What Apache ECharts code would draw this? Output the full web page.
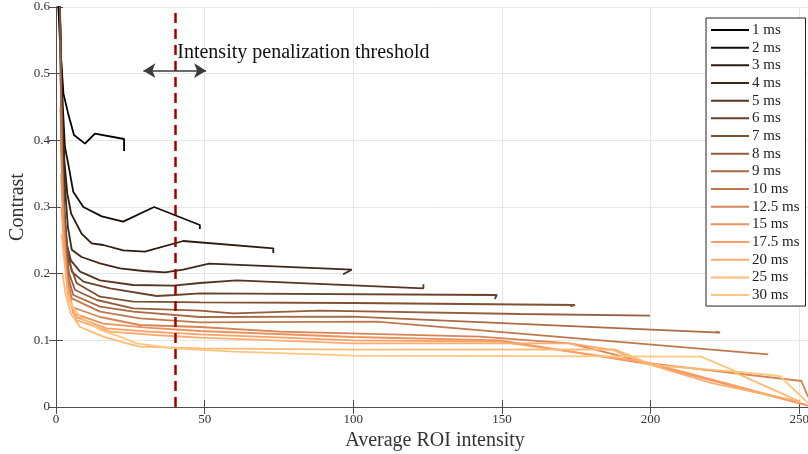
<!DOCTYPE html>
<html>
  <head>
    <meta charset="utf-8" />
  </head>
  <body style="margin:0;">
  <div id="main" style="width:808px;height:454px;"></div>

  <script type="text/javascript" src="https://cdn.jsdelivr.net/npm/echarts@6/dist/echarts.min.js"></script>
  <script type="text/javascript">
      // exposure times (legend)
      var exposures = ['1 ms', '2 ms', '3 ms', '4 ms', '5 ms', '6 ms', '7 ms', '8 ms', '9 ms', '10 ms',
                       '12.5 ms', '15 ms', '17.5 ms', '20 ms', '25 ms', '30 ms'];

      // [average ROI intensity, contrast] for each exposure
      var ms1 = [[0.5,0.75],[0.8,0.6],[1.35,0.546],[2.5,0.47],[4.1,0.44],[6.05,0.408],[9.75,0.395],[13.1,0.41],[22.9,0.402],[22.9,0.384]];
      var ms2 = [[0.7,0.75],[1.5,0.55],[2.3,0.45],[3.0,0.39],[4.1,0.365],[5.8,0.323],[9.2,0.300],[15.4,0.286],[22.6,0.278],[33,0.300],[48.4,0.273],[48.4,0.267]];
      var ms3 = [[0.9,0.7],[1.8,0.48],[2.8,0.37],[3.8,0.32],[5.1,0.29],[8.6,0.26],[12,0.2455],[15.9,0.243],[22.6,0.235],[29.9,0.233],[42.8,0.249],[73.1,0.238],[73.1,0.231]];
      var ms4 = [[1.0,0.68],[2.0,0.45],[3.0,0.33],[4.0,0.27],[5.3,0.236],[8.6,0.225],[14.8,0.2155],[21.5,0.208],[29.4,0.204],[36.7,0.202],[42.8,0.206],[51.5,0.215],[99.5,0.206],[96.6,0.199]];
      var ms5 = [[1.1,0.65],[2.0,0.42],[2.8,0.3],[3.6,0.245],[5,0.22],[8.1,0.203],[14.8,0.19],[26,0.183],[39.5,0.182],[48.4,0.186],[60.8,0.19],[123.6,0.178],[123.6,0.184]];
      var ms6 = [[1.2,0.62],[2.0,0.38],[2.8,0.29],[3.8,0.24],[5.3,0.203],[9.2,0.188],[18.2,0.178],[33.9,0.1665],[40,0.168],[48.4,0.1705],[148.3,0.168],[147.6,0.162]];
      var ms7 = [[1.3,0.6],[2.1,0.36],[3.0,0.27],[4.2,0.22],[7,0.1855],[14.8,0.1655],[26,0.158],[48.4,0.157],[100,0.156],[174.6,0.153],[173,0.151]];
      var ms8 = [[1.4,0.55],[2.2,0.34],[3.1,0.25],[4.4,0.2],[6.4,0.1755],[13.7,0.1605],[26,0.148],[48.4,0.1445],[59.6,0.1405],[88.8,0.1445],[156,0.1395],[199.8,0.137]];
      var ms9 = [[1.5,0.5],[2.3,0.32],[3.2,0.235],[4.4,0.19],[5.8,0.168],[14.8,0.1505],[26,0.143],[48.4,0.135],[100,0.1355],[223.4,0.1115],[222,0.113]];
      var ms10 = [[1.5,0.45],[2.4,0.3],[3.3,0.22],[4.4,0.18],[5.3,0.163],[14.8,0.143],[28.2,0.133],[48.4,0.127],[107.9,0.128],[239.6,0.079]];
      var ms12_5 = [[1.6,0.4],[2.5,0.28],[3.5,0.2],[5.3,0.15],[14.8,0.135],[28.2,0.123],[48.4,0.12],[75.3,0.113],[142.6,0.1055],[172.9,0.0955],[199.8,0.0655],[250.8,0.039],[253,0.015]];
      var ms15 = [[1.7,0.35],[2.6,0.26],[3.6,0.19],[5.8,0.1405],[15.9,0.125],[30.5,0.119],[48.4,0.114],[100,0.105],[149.3,0.1],[200,0.064],[253,0.002]];
      var ms17_5 = [[1.8,0.3],[2.7,0.24],[3.8,0.18],[6.4,0.1355],[17,0.118],[31,0.113],[48.4,0.109],[100,0.1],[149.3,0.098],[200,0.066],[252,0.004]];
      var ms20 = [[1.9,0.26],[2.8,0.22],[4,0.17],[7,0.13],[18.2,0.113],[33,0.108],[48.4,0.104],[100,0.0955],[172.9,0.0955],[187.4,0.0855],[196.4,0.068],[221,0.0355],[250.3,0.008]];
      var ms25 = [[2.2,0.2],[3.2,0.17],[5,0.14],[8.1,0.12],[15.9,0.1055],[23.8,0.0955],[28.2,0.0905],[48.4,0.088],[100,0.086],[188,0.0865],[200.8,0.063],[227.7,0.053],[250.3,0.008]];
      var ms30 = [[3.0,0.176],[4.1,0.16],[8.1,0.1355],[14.8,0.1155],[21.5,0.1055],[27.1,0.0955],[39.5,0.088],[60,0.083],[100,0.077],[217,0.0755],[228.9,0.053],[243.5,0.0465],[253,0.006]];

      var curves = [ms1, ms2, ms3, ms4, ms5, ms6, ms7, ms8, ms9, ms10, ms12_5, ms15, ms17_5, ms20, ms25, ms30];

      // copper colormap, 16 steps
      var colors = ['#000000','#150d08','#2b1b11','#402819','#553522','#6a422a','#805033','#955d3b',
                    '#aa6a44','#bf784c','#d58555','#ea925d','#ff9f65','#ffad6e','#ffba76','#ffc77f'];

      var threshold = 40;
      var arrowFrom = [29.4, 0.5045];
      var arrowTo = [50.5, 0.5045];
      var noteAt = [40.8, 0.531];
      var noteText = 'Intensity penalization threshold';

      var xTicks = {min: 0, max: 255, interval: 50};
      var yTicks = {min: 0, max: 0.6, interval: 0.1};

      var font = 'Liberation Serif';
      var axisColor = '#4d4d4d';

      var myChart = echarts.init(document.getElementById('main'));

      var series = curves.map(function (d, i) {
        return {
          name: exposures[i],
          type: 'line',
          data: d,
          showSymbol: false,
          clip: true,
          color: colors[i],
          lineStyle: {width: 1.8, color: colors[i]},
          emphasis: {disabled: true}
        };
      });

      // threshold + annotation
      series.push({
        name: 'annot',
        type: 'line',
        data: [],
        markLine: {
          silent: true,
          animation: false,
          label: {show: false},
          data: [
            [{coord: [threshold, 0], symbol: 'none', lineStyle: {color: '#a30000', width: 2.5, type: [10, 6]}},
             {coord: [threshold, 0.6], symbol: 'none'}],
            [{coord: arrowFrom, symbol: 'arrow', symbolSize: [11, 12], lineStyle: {color: '#3a3a3a', width: 1.5, type: 'solid'}},
             {coord: arrowTo, symbol: 'arrow', symbolSize: [11, 12]}]
          ]
        },
        markPoint: {
          silent: true,
          animation: false,
          symbolSize: 0,
          data: [{coord: noteAt}],
          label: {
            show: true, position: 'right', distance: 0,
            formatter: noteText,
            fontFamily: font, fontSize: 20, color: '#111'
          }
        }
      });

      var option = {
        animation: false,
        grid: {left: 56, width: 758, top: 7, height: 400, outerBoundsMode: 'none'},
        legend: {
          data: exposures,
          orient: 'vertical',
          left: 706,
          top: 18,
          padding: [4, 6, 3, 5],
          itemWidth: 38,
          itemHeight: 2,
          itemGap: 1.67,
          icon: 'rect',
          backgroundColor: '#fff',
          borderColor: '#222',
          borderWidth: 1,
          borderRadius: 0,
          textStyle: {fontFamily: font, fontSize: 15, lineHeight: 16, color: '#222', padding: [0, 0, 0, -2]}
        },
        xAxis: [{
          type: 'value', min: xTicks.min, max: xTicks.max, interval: xTicks.interval,
          name: 'Average ROI intensity', nameLocation: 'middle', nameGap: 21,
          nameTextStyle: {fontFamily: font, fontSize: 20, color: '#333'},
          axisLine: {show: true, lineStyle: {color: axisColor, width: 1}},
          axisTick: {show: true, inside: true, length: 7, lineStyle: {color: axisColor}},
          axisLabel: {fontFamily: font, fontSize: 13, color: '#333', margin: 6, showMaxLabel: false},
          splitLine: {show: true, lineStyle: {color: '#e6e6e6'}}
        }, {
          type: 'value', position: 'top', min: xTicks.min, max: xTicks.max, interval: xTicks.interval,
          axisLine: {show: true, lineStyle: {color: axisColor}},
          axisTick: {show: true, inside: true, length: 7, lineStyle: {color: axisColor}},
          axisLabel: {show: false}, splitLine: {show: false}
        }],
        yAxis: [{
          type: 'value', min: yTicks.min, max: yTicks.max, interval: yTicks.interval,
          name: 'Contrast', nameLocation: 'middle', nameGap: 28, nameMoveOverlap: false,
          nameTextStyle: {fontFamily: font, fontSize: 20, color: '#333'},
          axisLine: {show: true, lineStyle: {color: axisColor, width: 1}},
          axisTick: {show: true, inside: true, length: 7, lineStyle: {color: axisColor}},
          axisLabel: {fontFamily: font, fontSize: 13, color: '#333', margin: 6},
          splitLine: {show: true, lineStyle: {color: '#e6e6e6'}}
        }, {
          type: 'value', position: 'right', min: yTicks.min, max: yTicks.max, interval: yTicks.interval,
          axisLine: {show: true, lineStyle: {color: axisColor}},
          axisTick: {show: true, inside: true, length: 7, lineStyle: {color: axisColor}},
          axisLabel: {show: false}, splitLine: {show: false}
        }],
        series: series
      };

      myChart.setOption(option);
    </script>
</body>
</html>
